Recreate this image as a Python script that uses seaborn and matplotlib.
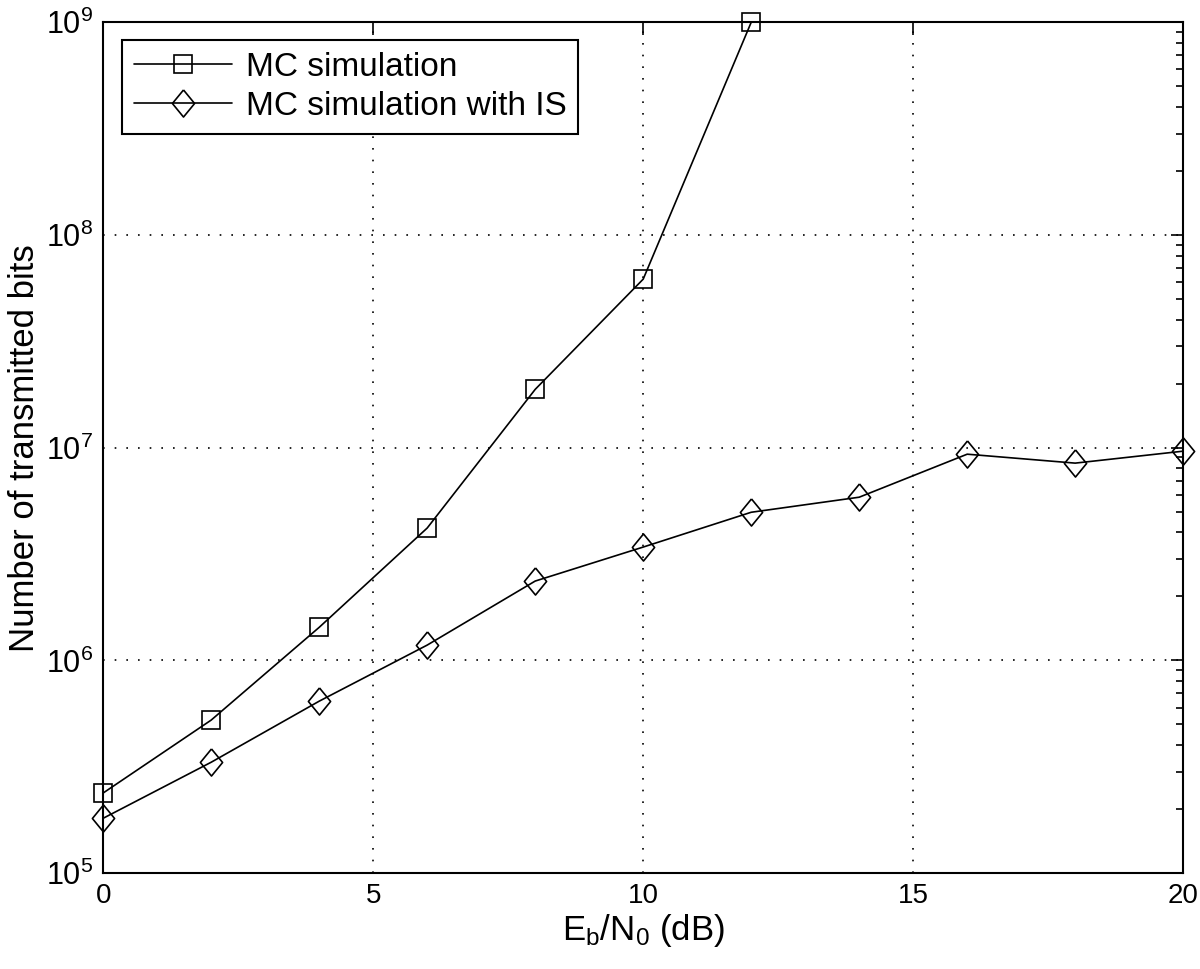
import numpy as np
import pandas as pd
import seaborn as sns
import matplotlib.pyplot as plt
from matplotlib.ticker import LogLocator, NullFormatter

ebn0_mc = [0, 2, 4, 6, 8, 10, 12]
bits_mc = [2.38e5, 5.24e5, 1.43e6, 4.19e6, 1.88e7, 6.2e7, 1.0e9]
ebn0_is = [0, 2, 4, 6, 8, 10, 12, 14, 16, 18, 20]
bits_is = [1.81e5, 3.32e5, 6.43e5, 1.18e6, 2.36e6, 3.41e6, 4.97e6, 5.85e6, 9.32e6, 8.46e6, 9.63e6]
labels = ['MC simulation', 'MC simulation with IS']

df = pd.concat([
    pd.DataFrame({'x': ebn0_mc, 'y': bits_mc, 'series': labels[0]}),
    pd.DataFrame({'x': ebn0_is, 'y': bits_is, 'series': labels[1]}),
])

sns.set_style('white')
plt.rcParams['font.family'] = ['Liberation Sans', 'DejaVu Sans']
plt.rcParams['mathtext.fontset'] = 'custom'
plt.rcParams['mathtext.rm'] = 'Liberation Sans'
plt.rcParams['mathtext.it'] = 'Liberation Sans'
plt.rcParams['text.color'] = 'black'
plt.rcParams['axes.labelcolor'] = 'black'
plt.rcParams['xtick.color'] = 'black'
plt.rcParams['ytick.color'] = 'black'

fig = plt.figure(figsize=(12, 9.69), dpi=100)
ax = fig.add_axes([0.086, 0.099, 0.9, 0.878])

# matlab-style diamond (a bit narrower than tall)
diamond = [(0, 1), (0.82, 0), (0, -1), (-0.82, 0), (0, 1)]

sns.lineplot(data=df, x='x', y='y', style='series', markers={labels[0]: 's', labels[1]: 'D'},
             dashes=False, color='black', markersize=13, markerfacecolor='none',
             markeredgecolor='black', markeredgewidth=1.2, linewidth=1.2, ax=ax)
for line in ax.get_lines():
    line.set_clip_on(False)
    if line.get_marker() == 'D':
        line.set_marker(diamond)
        line.set_markersize(19.5)

ax.set_yscale('log')
ax.set_xlim(0, 20)
ax.set_ylim(1e5, 1e9)
ax.set_xticks([0, 5, 10, 15, 20])
ax.yaxis.set_major_locator(LogLocator(base=10, numticks=10))
ax.yaxis.set_minor_locator(LogLocator(base=10, subs=np.arange(2, 10), numticks=10))
ax.yaxis.set_minor_formatter(NullFormatter())
ax.grid(True, which='major', linestyle=(0, (1, 6)), color='black', linewidth=1.2)
ax.tick_params(which='both', direction='in', top=True, right=True, width=1.2, pad=7)
ax.tick_params(axis='x', labelsize=20)
ax.tick_params(axis='y', labelsize=22)
ax.tick_params(which='major', length=9)
ax.tick_params(which='minor', length=5)
for s in ax.spines.values():
    s.set_linewidth(1.5)
    s.set_color('black')

ax.set_xlabel(r'E$_\mathrm{b}$/N$_\mathrm{0}$ (dB)', fontsize=25, labelpad=2)
ax.set_ylabel('Number of transmitted bits', fontsize=25, labelpad=4)

h, l = ax.get_legend_handles_labels()
for hh in h:
    hh.set_markerfacecolor('none')
    hh.set_markeredgecolor('black')
    hh.set_color('black')
    hh.set_linewidth(1.2)
    hh.set_markeredgewidth(1.2)
    if hh.get_marker() == 'D':
        hh.set_marker(diamond)
        hh.set_markersize(19)
leg = ax.legend(h, l, loc='upper left', fontsize=24, fancybox=False, framealpha=1,
                edgecolor='black', handlelength=2.95, handletextpad=0.4, borderpad=0.35,
                labelspacing=0.25, borderaxespad=0, bbox_to_anchor=(0.0176, 0.979))
leg.get_frame().set_linewidth(1.5)

fig.savefig('out.png', dpi=100)
